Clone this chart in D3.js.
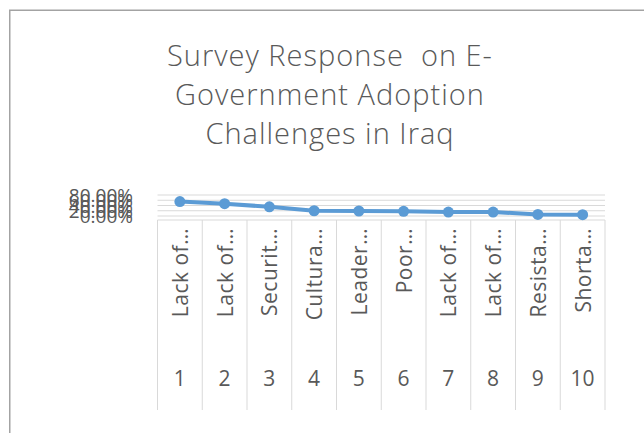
<!DOCTYPE html>
<html>
<head>
<meta charset="utf-8">
<script src="https://cdn.jsdelivr.net/npm/d3@7"></script>
<style>
  html, body { margin: 0; padding: 0; background: #fff; }
  svg { display: block; }
  text { font-family: "Open Sans", "Noto Sans", sans-serif; fill: #595959; }
</style>
</head>
<body>
<svg id="chart" width="644" height="433"></svg>
<script>
// ---- data ----
const titleLines = ["Survey Response  on E-", "Government Adoption", "Challenges in Iraq"];
const categoryNumbers = ["1", "2", "3", "4", "5", "6", "7", "8", "9", "10"];
const categoryLabels = ["Lack of…", "Lack of…", "Securit…", "Cultura…", "Leader…", "Poor…", "Lack of…", "Lack of…", "Resista…", "Shorta…"];
const responseValues = [0.55, 0.47, 0.35, 0.20, 0.19, 0.18, 0.15, 0.15, 0.06, 0.05];
const yTicks = [0, 0.2, 0.4, 0.6, 0.8];

// ---- layout ----
const svg = d3.select("#chart");
const plotLeft = 157.5, plotRight = 605;
const yTop = 195, yZero = 216;
const tableTop = 220, tableBottom = 410;

// chart frame (cropped at right/bottom)
svg.append("rect")
  .attr("x", 9.75).attr("y", 10.25)
  .attr("width", 800).attr("height", 600)
  .attr("fill", "none").attr("stroke", "#a3a3a3").attr("stroke-width", 1.5);

// title
svg.append("g").selectAll("text").data(titleLines).join("text")
  .attr("x", 330)
  .attr("y", (d, i) => 66 + i * 39)
  .attr("text-anchor", "middle")
  .style("font-size", "29px")
  .style("font-weight", "300")
  .style("letter-spacing", "1px")
  .style("white-space", "pre")
  .attr("xml:space", "preserve")
  .text(d => d);

const x = d3.scaleBand().domain(categoryNumbers).range([plotLeft, plotRight]);
const y = d3.scaleLinear().domain([0, 0.8]).range([yZero, yTop]);

// gridlines
svg.append("g").selectAll("line").data(yTicks).join("line")
  .attr("x1", plotLeft).attr("x2", plotRight)
  .attr("y1", d => y(d)).attr("y2", d => y(d))
  .attr("stroke", "#d9d9d9").attr("stroke-width", 1);

// y axis labels
const yAxis = d3.axisLeft(y).tickValues(yTicks).tickFormat(d3.format(".2%")).tickSize(0).tickPadding(0);
const yg = svg.append("g").attr("transform", "translate(133,0)").call(yAxis);
yg.select(".domain").remove();
yg.selectAll("text").style("font-size", "19px").attr("fill", "#595959")
  .style("font-family", "\"Open Sans\", sans-serif").attr("dy", "0.35em");

// category table
const tbl = svg.append("g");
tbl.append("line")
  .attr("x1", plotLeft).attr("x2", plotRight)
  .attr("y1", tableTop).attr("y2", tableTop)
  .attr("stroke", "#d9d9d9");
const bounds = categoryNumbers.map(c => x(c)).concat([x(categoryNumbers[categoryNumbers.length - 1]) + x.bandwidth()]);
tbl.selectAll("line.sep").data(bounds).join("line").attr("class", "sep")
  .attr("x1", d => d).attr("x2", d => d)
  .attr("y1", tableTop).attr("y2", tableBottom)
  .attr("stroke", "#d9d9d9");

// rotated labels
tbl.selectAll("text.lbl").data(categoryNumbers).join("text").attr("class", "lbl")
  .attr("transform", d => `translate(${x(d) + x.bandwidth() / 2},228) rotate(-90)`)
  .attr("text-anchor", "end")
  .attr("y", 8)
  .style("font-size", "21px")
  .style("letter-spacing", "0.5px")
  .text((d, i) => categoryLabels[i]);

// number labels
tbl.selectAll("text.num").data(categoryNumbers).join("text").attr("class", "num")
  .attr("x", d => x(d) + x.bandwidth() / 2)
  .attr("y", 386)
  .attr("text-anchor", "middle")
  .style("font-size", "21px")
  .text(d => d);

// line series
const pts = categoryNumbers.map((c, i) => ({ c, v: responseValues[i] }));
const line = d3.line().x(d => x(d.c) + x.bandwidth() / 2).y(d => y(d.v));
svg.append("path").datum(pts)
  .attr("d", line)
  .attr("fill", "none")
  .attr("stroke", "#5b9bd5")
  .attr("stroke-width", 4)
  .attr("stroke-linejoin", "round");
svg.append("g").selectAll("circle").data(pts).join("circle")
  .attr("cx", d => x(d.c) + x.bandwidth() / 2)
  .attr("cy", d => y(d.v))
  .attr("r", 5.5)
  .attr("fill", "#5b9bd5");
</script>
</body>
</html>
